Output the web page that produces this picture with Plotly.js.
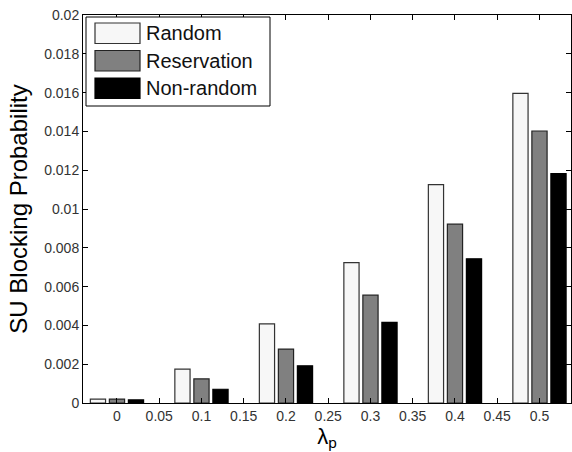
<!DOCTYPE html>
<html>
<head>
<meta charset="utf-8">
<script src="https://cdn.plot.ly/plotly-3.0.1.min.js"></script>
<style>html,body{margin:0;padding:0;background:#fff;}#chart{width:572px;height:452px;}</style>
</head>
<body>
<div id="chart"></div>
<script>
const lambdaP = [0, 0.1, 0.2, 0.3, 0.4, 0.5];
const seriesNames = ["Random", "Reservation", "Non-random"];
const randomVals = [0.0002, 0.00175, 0.00408, 0.00724, 0.01126, 0.01596];
const reservationVals = [0.0002, 0.00124, 0.00278, 0.00556, 0.00922, 0.01402];
const nonRandomVals = [0.00016, 0.00071, 0.00192, 0.00416, 0.00743, 0.01182];
const xTickVals = [0, 0.05, 0.1, 0.15, 0.2, 0.25, 0.3, 0.35, 0.4, 0.45, 0.5];
const xTickText = ["0", "0.05", "0.1", "0.15", "0.2", "0.25", "0.3", "0.35", "0.4", "0.45", "0.5"];
const yTickVals = [0, 0.002, 0.004, 0.006, 0.008, 0.01, 0.012, 0.014, 0.016, 0.018, 0.02];
const yTickText = ["0", "0.002", "0.004", "0.006", "0.008", "0.01", "0.012", "0.014", "0.016", "0.018", "0.02"];

const fills = ["#f7f7f7", "#808080", "#000000"];
const outlines = ["#333333", "#222222", "#000000"];
const allVals = [randomVals, reservationVals, nonRandomVals];

const font = "Arial, 'Liberation Sans', sans-serif";

const traces = allVals.map((v, i) => ({
  type: "bar",
  name: seriesNames[i],
  x: lambdaP,
  y: v,
  marker: {color: fills[i], line: {color: outlines[i], width: 1.2}},
  showlegend: false,
  hoverinfo: "x+y+name"
}));

// Custom legend (MATLAB-style wide swatches)
const shapes = [];
const annotations = [];
const lg = {x0: 86, x1: 270, y0: 17, y1: 106};
const W = 572, H = 452, ml = 83, mr = 1, mt = 15, mb = 49;
const pw = W - ml - mr, ph = H - mt - mb;
const px = (x) => (x - ml) / pw;
const py = (y) => 1 - (y - mt) / ph;
shapes.push({type: "rect", xref: "paper", yref: "paper", x0: px(lg.x0), x1: px(lg.x1), y0: py(lg.y1), y1: py(lg.y0),
  line: {color: "#000", width: 1}, fillcolor: "#fff", layer: "above"});
seriesNames.forEach((n, i) => {
  const top = 23 + i * 27.5, bot = top + 20.5;
  shapes.push({type: "rect", xref: "paper", yref: "paper", x0: px(95), x1: px(140), y0: py(bot), y1: py(top),
    line: {color: outlines[i], width: 1.2}, fillcolor: fills[i], layer: "above"});
  annotations.push({xref: "paper", yref: "paper", x: px(144), y: py((top + bot) / 2), xanchor: "left", yanchor: "middle",
    text: n, showarrow: false, font: {family: font, size: 20, color: "#111"}});
});

const layout = {
  width: W, height: H,
  margin: {l: ml, r: mr, t: mt, b: mb},
  paper_bgcolor: "#fff", plot_bgcolor: "#fff",
  font: {family: font, color: "#222"},
  barmode: "group",
  bargap: 0.325,
  bargroupgap: 0.2,
  xaxis: {
    range: [-0.0402, 0.5373],
    tickvals: xTickVals, ticktext: xTickText,
    ticks: "inside", ticklen: 5, tickcolor: "#000", tickwidth: 1,
    showline: true, linecolor: "#000", linewidth: 1, mirror: "ticks",
    showgrid: false, zeroline: false,
    tickfont: {family: font, size: 14, color: "#333"},
    title: {text: "λ<sub>p</sub>", font: {family: font, size: 22, color: "#000"}, standoff: 4}
  },
  yaxis: {
    range: [0, 0.02],
    tickvals: yTickVals, ticktext: yTickText,
    ticks: "inside", ticklen: 5, tickcolor: "#000", tickwidth: 1,
    showline: true, linecolor: "#000", linewidth: 1, mirror: "ticks",
    showgrid: false, zeroline: false,
    tickfont: {family: font, size: 14, color: "#333"},
    title: {text: "SU Blocking Probability", font: {family: font, size: 24, color: "#000"}, standoff: 9}
  },
  shapes: shapes,
  annotations: annotations
};

Plotly.newPlot("chart", traces, layout, {displayModeBar: false, staticPlot: true});
</script>
</body>
</html>
